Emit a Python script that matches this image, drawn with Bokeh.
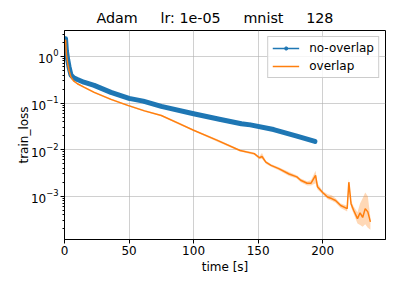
from bokeh.plotting import figure
from bokeh.models import Range1d, FixedTicker, Legend, LegendItem, Title
from bokeh.embed import file_html
from bokeh.resources import INLINE

# ---- data ----
blue_t = [0.8, 1.5, 2.5, 3.5, 5, 7, 10, 15, 23, 36, 50, 61, 75, 100, 120, 137, 144, 162, 180, 194]
blue_v = [2.4, 1.3, 0.85, 0.6, 0.4, 0.35, 0.32, 0.28, 0.24, 0.17, 0.126, 0.11, 0.085, 0.059,
          0.045, 0.036, 0.034, 0.027, 0.0195, 0.015]

orange_t = [0.8, 1.5, 2.5, 3.5, 5, 7, 10, 15, 23, 36, 49, 62, 75, 88, 100, 118, 136,
            147, 151, 153, 156, 160, 166, 174, 180, 183, 188, 191, 194.5, 196, 200, 204,
            207, 210, 214, 219, 220.3, 222, 224, 227, 229, 231, 233, 235, 237]
orange_v = [2.3, 1.1, 0.7, 0.5, 0.36, 0.3, 0.26, 0.22, 0.17, 0.12, 0.089, 0.068, 0.054,
            0.037, 0.026, 0.016, 0.0096,
            0.0082, 0.0067, 0.0071, 0.0054, 0.0046, 0.0039, 0.0030, 0.0026, 0.0022, 0.0019,
            0.0019, 0.0028, 0.0016, 0.0012, 0.00095, 0.00089, 0.00081, 0.00063, 0.00054,
            0.0020, 0.00069, 0.0005, 0.00033, 0.00044, 0.00035, 0.00054, 0.00046, 0.00028]
orange_lo = [2.2, 1.05, 0.67, 0.48, 0.345, 0.29, 0.25, 0.21, 0.163, 0.115, 0.085, 0.065, 0.052,
             0.035, 0.025, 0.015, 0.0091,
             0.0077, 0.0062, 0.0064, 0.0050, 0.0043, 0.0036, 0.0027, 0.0024, 0.0020, 0.0017,
             0.0017, 0.0019, 0.0014, 0.0011, 0.00086, 0.00080, 0.00072, 0.00056, 0.00047,
             0.0015, 0.00058, 0.00042, 0.00026, 0.00024, 0.00022, 0.00025, 0.00021, 0.00019]
orange_hi = [2.4, 1.15, 0.73, 0.52, 0.375, 0.31, 0.27, 0.23, 0.177, 0.125, 0.093, 0.071, 0.056,
             0.039, 0.027, 0.017, 0.0101,
             0.0087, 0.0072, 0.0085, 0.0058, 0.0049, 0.0042, 0.0033, 0.0028, 0.0024, 0.0021,
             0.0022, 0.0035, 0.0019, 0.0013, 0.00110, 0.00105, 0.00090, 0.00070, 0.00062,
             0.0023, 0.00080, 0.00060, 0.00045, 0.00070, 0.00090, 0.00120, 0.00100, 0.00035]

x_ticks = [0, 50, 100, 150, 200]
y_ticks = [1e-3, 1e-2, 1e-1, 1e0]

title_parts = ["Adam", "lr: 1e-05", "mnist", "128"]
series_names = ["no-overlap", "overlap"]

FONT = "DejaVu Sans"
BLUE = "#1f77b4"
ORANGE = "#ff7f0e"

p = figure(width=399, height=285, y_axis_type="log", output_backend="svg",
           toolbar_location=None, min_border_left=64, min_border_right=14,
           min_border_top=30, min_border_bottom=46,
           x_range=Range1d(0, 248.7), y_range=Range1d(10 ** -3.93, 10 ** 0.558))

gap = "\u00a0" * 5
p.title = Title(text=gap.join(title_parts), text_font=FONT, text_font_size="14.3px",
                text_font_style="normal", align="left", offset=32, text_color="black")

# band
p.varea(x=orange_t, y1=orange_lo, y2=orange_hi, fill_color=ORANGE, fill_alpha=0.3)

# blue: dense markers look like a thick line
p.line(blue_t, blue_v, line_color=BLUE, line_width=5, line_join="round", line_cap="round")
b_line = p.line(blue_t, blue_v, line_color=BLUE, line_width=1.5)
b_dots = p.scatter(blue_t, blue_v, size=3, color=BLUE)
o_line = p.line(orange_t, orange_v, line_color=ORANGE, line_width=1.5)

legend = Legend(items=[LegendItem(label=series_names[0], renderers=[b_line, b_dots]),
                       LegendItem(label=series_names[1], renderers=[o_line])],
                location="top_right", label_text_font=FONT, label_text_font_size="12px",
                label_text_color="black",
                glyph_width=27, glyph_height=8, label_standoff=10, spacing=4,
                padding=4, margin=6, border_line_color="#cccccc", border_line_alpha=1,
                background_fill_alpha=0.8)
p.add_layout(legend)

p.xaxis.ticker = FixedTicker(ticks=x_ticks)
p.yaxis.ticker = FixedTicker(ticks=y_ticks, minor_ticks=[
    m * 10 ** e for e in (-4, -3, -2, -1, 0) for m in range(2, 10)])
p.xaxis.axis_label = "time [s]"
p.yaxis.axis_label = "train_loss"
for ax in (p.xaxis[0], p.yaxis[0]):
    ax.axis_label_text_font = FONT
    ax.axis_label_text_font_size = "12px"
    ax.axis_label_text_font_style = "normal"
    ax.axis_label_text_color = "black"
    ax.major_label_text_font = FONT
    ax.major_label_text_font_size = "12px"
    ax.major_label_text_color = "black"
    ax.axis_line_color = "black"
    ax.major_tick_line_color = "black"
    ax.minor_tick_line_color = "black"
    ax.major_tick_out = 4
    ax.major_tick_in = 0
    ax.minor_tick_out = 2
    ax.minor_tick_in = 0
    ax.major_label_standoff = 2
p.xaxis.axis_label_standoff = 2
p.yaxis.axis_label_standoff = -3
p.xaxis.minor_tick_line_color = None

p.grid.grid_line_color = "#b0b0b0"
p.grid.grid_line_alpha = 0.6
p.ygrid.minor_grid_line_color = None
p.outline_line_color = "black"
p.outline_line_alpha = 1

open("out.html", "w").write(file_html(p, INLINE))
